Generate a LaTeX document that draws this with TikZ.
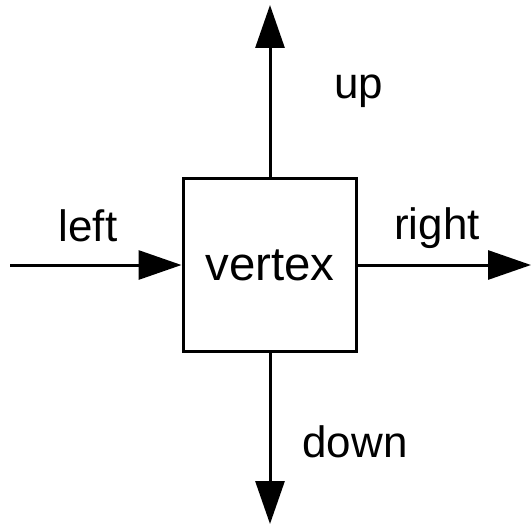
\documentclass[tikz,border=0pt]{standalone}
\usepackage{fontspec}
\setmainfont{Liberation Sans}
\usetikzlibrary{arrows.meta}
\usetikzlibrary{positioning}

\tikzset{
  edge/.style={line width=0.06cm, -{Triangle[length=0.86cm, width=0.58cm]}},
  vbox/.style={draw, line width=0.06cm, minimum size=3.48cm, inner sep=0pt,
    font=\fontsize{27}{30}\selectfont},
  lbl/.style={font=\fontsize{25}{28}\selectfont}
}

\begin{document}
\begin{tikzpicture}[x=0.02cm, y=-0.02cm]
    \useasboundingbox (0, 0) rectangle (531, 525);

    \node [vbox] at (270, 265) (v) {vertex};

    % free ends of the four edges
    \coordinate (top) at (270, 5);
    \coordinate (bottom) at (270, 524);
    \coordinate (west) at (10, 265);
    \coordinate (east) at (531, 265);

    \draw [edge] (v.north) -- (top);
    \draw [edge] (v.south) -- (bottom);
    \draw [edge] (west) -- (v.west);
    \draw [edge] (v.east) -- (east);

    \node [lbl] at (359, 91) (lup) {up};
    \node [lbl] at (355, 442) (ldown) {down};
    \node [lbl] at (88, 226) (lleft) {left};
    \node [lbl] at (437, 228) (lright) {right};
  \end{tikzpicture}
\end{document}
